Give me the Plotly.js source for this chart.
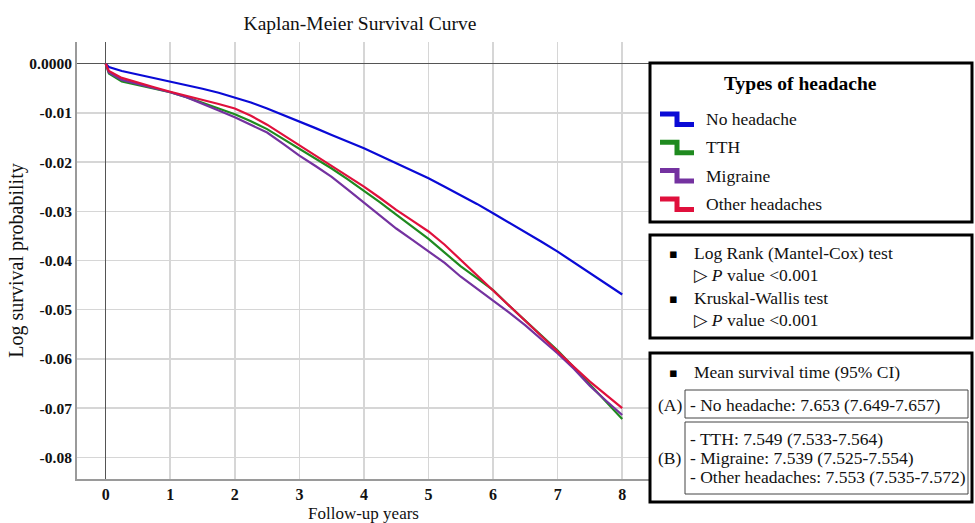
<!DOCTYPE html>
<html>
<head>
<meta charset="utf-8">
<script src="https://cdn.plot.ly/plotly-3.0.1.min.js"></script>
<style>html,body{margin:0;padding:0;background:#fff;}#chart{width:975px;height:523px;}</style>
</head>
<body>
<div id="chart"></div>
<script>
// ---- data ----
const years = [0, 0.05, 0.25, 0.5, 0.75, 1, 1.25, 1.5, 1.75, 2, 2.25, 2.5, 2.75, 3, 3.25, 3.5, 3.75, 4, 4.25, 4.5, 4.75, 5, 5.25, 5.5, 5.75, 6, 6.25, 6.5, 6.75, 7, 7.25, 7.5, 7.75, 8];
const noHeadache = [0, -0.0007, -0.0015, -0.0022, -0.0029, -0.0036, -0.0044, -0.0051, -0.0059, -0.0069, -0.0079, -0.0091, -0.0104, -0.0117, -0.0131, -0.0145, -0.0158, -0.0172, -0.0187, -0.0202, -0.0217, -0.0233, -0.0250, -0.0267, -0.0285, -0.0304, -0.0323, -0.0342, -0.0362, -0.0382, -0.0404, -0.0426, -0.0448, -0.0469];
const tth = [0, -0.0020, -0.0036, -0.0043, -0.0050, -0.0058, -0.0068, -0.0079, -0.0091, -0.0103, -0.0117, -0.0133, -0.0153, -0.0174, -0.0193, -0.0213, -0.0235, -0.0258, -0.0282, -0.0307, -0.0331, -0.0356, -0.0384, -0.0412, -0.0436, -0.0460, -0.0492, -0.0523, -0.0553, -0.0583, -0.0617, -0.0652, -0.0687, -0.0722];
const migraine = [0, -0.0018, -0.0033, -0.0041, -0.0049, -0.0058, -0.0068, -0.0081, -0.0095, -0.0109, -0.0124, -0.0140, -0.0163, -0.0187, -0.0208, -0.0230, -0.0256, -0.0282, -0.0308, -0.0335, -0.0358, -0.0382, -0.0405, -0.0433, -0.0457, -0.0481, -0.0506, -0.0532, -0.0560, -0.0589, -0.0620, -0.0655, -0.0685, -0.0714];
const otherHeadaches = [0, -0.0015, -0.0029, -0.0039, -0.0048, -0.0057, -0.0065, -0.0073, -0.0082, -0.0091, -0.0106, -0.0124, -0.0145, -0.0166, -0.0186, -0.0207, -0.0228, -0.0250, -0.0273, -0.0297, -0.0319, -0.0341, -0.0368, -0.0399, -0.0431, -0.0463, -0.0494, -0.0524, -0.0555, -0.0585, -0.0616, -0.0646, -0.0673, -0.0700];
const seriesNames = ["No headache", "TTH", "Migraine", "Other headaches"];
const seriesColors = ["#0a0ad6", "#1f8a1f", "#7432a0", "#e0103c"];
const xTickVals = [0, 1, 2, 3, 4, 5, 6, 7, 8];
const yTickVals = [0, -0.01, -0.02, -0.03, -0.04, -0.05, -0.06, -0.07, -0.08];
const yTickText = ["0.0000", "-0.01", "-0.02", "-0.03", "-0.04", "-0.05", "-0.06", "-0.07", "-0.08"];
const testLines = ["Log Rank (Mantel-Cox) test", "▷ <i>P</i> value <0.001", "Kruskal-Wallis test", "▷ <i>P</i> value <0.001"];
const meanHeader = "Mean survival time (95% CI)";
const groupA = ["- No headache: 7.653 (7.649-7.657)"];
const groupB = ["- TTH: 7.549 (7.533-7.564)", "- Migraine: 7.539 (7.525-7.554)", "- Other headaches: 7.553 (7.535-7.572)"];

// ---- layout geometry ----
const W = 975, H = 523;
const M = {l: 77, r: 325, t: 42, b: 44};
const PW = W - M.l - M.r, PH = H - M.t - M.b;
const px = v => (v - M.l) / PW;
const py = v => (H - M.b - v) / PH;
const SERIF = "Liberation Serif, Times New Roman, DejaVu Serif, serif";
const FS = 17.5;

const allY = [noHeadache, tth, migraine, otherHeadaches];
const traces = allY.map((ys, i) => ({
  x: years, y: ys, type: "scatter", mode: "lines", name: seriesNames[i],
  line: {color: seriesColors[i], width: 2.2}, showlegend: false
}));

const shapes = [];
const annotations = [];
function box(x0, y0, x1, y1, w, c) {
  shapes.push({type: "rect", xref: "paper", yref: "paper", x0: px(x0), x1: px(x1), y0: py(y1), y1: py(y0),
    line: {color: c, width: w}, fillcolor: "#ffffff", layer: "above"});
}
function txt(x, y, t, opts) {
  annotations.push(Object.assign({xref: "paper", yref: "paper", x: px(x - 3), y: py(y), text: t, showarrow: false,
    xanchor: "left", yanchor: "middle", font: {family: SERIF, size: FS, color: "#111"}}, opts || {}));
}
const bullet = {xanchor: "center", font: {family: "DejaVu Sans", size: 13, color: "#000"}};

// legend box
box(650, 63, 972, 222, 3, "#000");
txt(803, 83, "<b>Types of headache</b>", {xanchor: "center", font: {family: SERIF, size: 19.5, color: "#000"}});
seriesNames.forEach((n, i) => {
  const top = 114 + i * 28.3, bot = 124.5 + i * 28.3;
  shapes.push({type: "path", xref: "paper", yref: "paper",
    path: `M ${px(660)} ${py(top)} L ${px(677)} ${py(top)} L ${px(677)} ${py(bot)} L ${px(694)} ${py(bot)}`,
    line: {color: seriesColors[i], width: 5}, layer: "above"});
  txt(707, 119 + i * 28.3, n);
});

// tests box
box(650, 235, 972, 338, 3, "#000");
txt(676, 253, "▪", bullet);
txt(676, 298, "▪", bullet);
[253, 275, 298, 320].forEach((y, i) => txt(695, y, testLines[i]));

// mean survival box
box(650, 353, 972, 502, 3, "#000");
box(685, 390, 968, 418, 1, "#444");
box(685, 422, 968, 494, 1, "#444");
txt(676, 372, "▪", bullet);
txt(695, 372, meanHeader);
txt(659, 405, "(A)");
txt(691, 405, groupA[0]);
txt(659, 458, "(B)");
[439, 458, 477].forEach((y, i) => txt(691, y, groupB[i]));

const layout = {
  width: W, height: H,
  margin: M,
  paper_bgcolor: "#ffffff", plot_bgcolor: "#ffffff",
  title: {text: "Kaplan-Meier Survival Curve", x: px(360), xref: "paper", xanchor: "center",
    y: 1 - 23 / H, yref: "container", yanchor: "middle",
    font: {family: SERIF, size: 19.5, color: "#111"}},
  xaxis: {
    range: [-0.444, 8.43], tickvals: xTickVals, ticktext: xTickVals.map(String),
    showgrid: true, gridcolor: "#d6d6d6", gridwidth: 1.5,
    zeroline: true, zerolinecolor: "#555", zerolinewidth: 1,
    showline: true, linecolor: "#9a9a9a", linewidth: 2, ticks: "",
    tickfont: {family: SERIF, size: 16, color: "#111", weight: "bold"},
    title: {text: "Follow-up years", font: {family: SERIF, size: 17, color: "#111"}, standoff: 9},
    automargin: false
  },
  yaxis: {
    range: [-0.0844, 0.0044], tickvals: yTickVals, ticktext: yTickText,
    showgrid: true, gridcolor: "#d6d6d6", gridwidth: 1.5,
    zeroline: true, zerolinecolor: "#555", zerolinewidth: 1,
    showline: true, linecolor: "#9a9a9a", linewidth: 2, ticks: "",
    tickfont: {family: SERIF, size: 15.5, color: "#111", weight: "bold"},
    title: {text: "Log survival probability", font: {family: SERIF, size: 20, color: "#111"}, standoff: 0},
    automargin: false
  },
  shapes: shapes,
  annotations: annotations,
  showlegend: false
};

Plotly.newPlot("chart", traces, layout, {displayModeBar: false, staticPlot: true});
</script>
</body>
</html>
